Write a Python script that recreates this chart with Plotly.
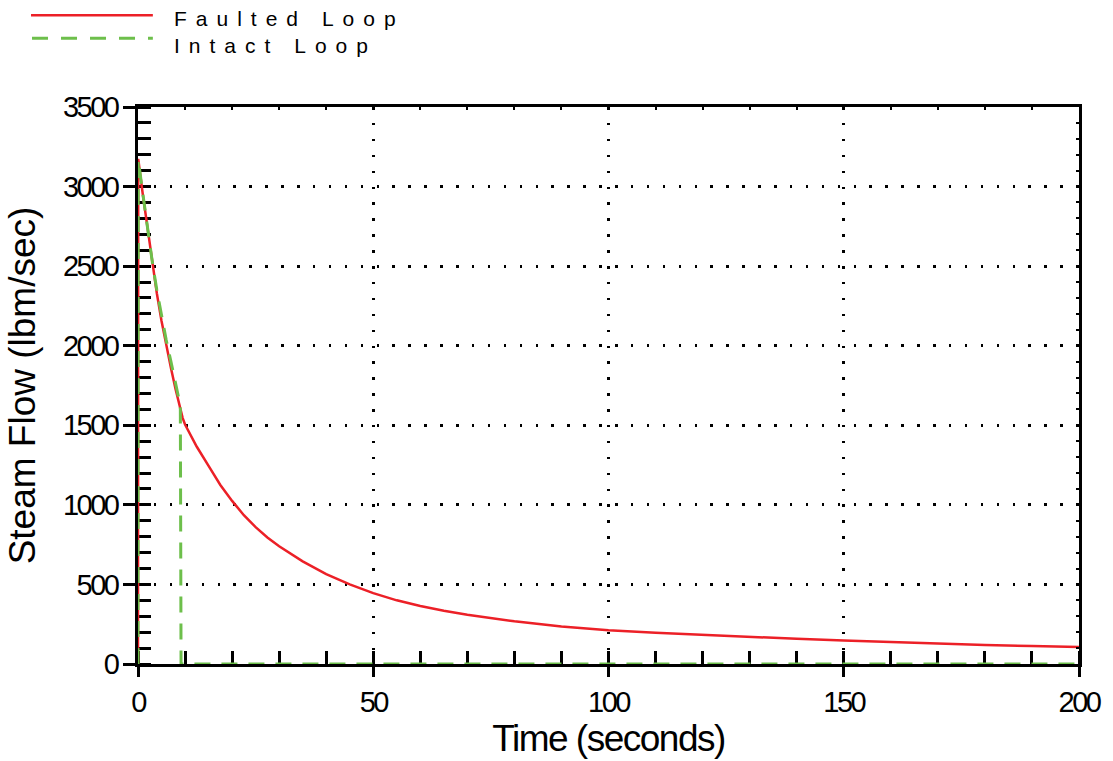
import plotly.graph_objects as go

# Faulted loop steam flow (lbm/sec) vs time (s)
faulted_t = [0, 0.05, 1, 2, 3, 4, 5, 6, 7, 8, 9, 9.5, 10, 12.5, 15, 17.5, 20, 22.5, 25, 27.5, 30, 35, 40, 45, 50, 55, 60, 65, 70, 80, 90, 100, 110, 120, 130, 140, 150, 160, 170, 180, 190, 200]
faulted_v = [0, 3174, 2955, 2735, 2525, 2330, 2155, 2000, 1860, 1725, 1595, 1545, 1505, 1365, 1245, 1125, 1025, 935, 860, 795, 740, 645, 565, 500, 445, 400, 365, 335, 310, 268, 236, 212, 196, 182, 169, 158, 147, 137, 128, 120, 113, 107]

# Intact loop steam flow
intact_t = [0, 0.05, 1, 2, 3, 4, 5, 6, 7, 7.6, 8.3, 8.8, 9.0, 9.15, 200]
intact_v = [0, 3170, 2960, 2740, 2535, 2350, 2180, 2035, 1900, 1820, 1720, 1650, 1600, 0, 0]

series_names = ["Faulted Loop", "Intact Loop"]
x_ticks = [0, 50, 100, 150, 200]
y_ticks = [0, 500, 1000, 1500, 2000, 2500, 3000, 3500]

RED = "#ec2027"
GREEN = "#6dbf4b"
FONT = "Liberation Sans, Arial, sans-serif"

W, H = 1113, 761
L, R, T, B = 138, 25, 107, 95
pw, ph = W - L - R, H - T - B

def px(x):
    return (x - L) / pw

def py(y):
    return (H - B - y) / ph

def tight(s, ls):
    return f'<span style="letter-spacing:{ls}px">{s}</span>'

fig = go.Figure()
fig.add_trace(go.Scatter(x=faulted_t, y=faulted_v, mode="lines", name=series_names[0],
                         line=dict(color=RED, width=2.5),
                         cliponaxis=False, showlegend=False))
fig.add_trace(go.Scatter(x=intact_t, y=intact_v, mode="lines", name=series_names[1],
                         line=dict(color=GREEN, width=3, dash="16px,11px"),
                         cliponaxis=False, showlegend=False))
# mirrored tiny ticks on top/right
fig.add_trace(go.Scatter(x=[None], y=[None], xaxis="x2", yaxis="y2", showlegend=False, hoverinfo="skip"))

axis_common = dict(showline=True, linecolor="black", linewidth=2.5, zeroline=False,
                   showgrid=True, gridcolor="black", gridwidth=2.5, griddash="2.5px,13.4px",
                   tickfont=dict(family=FONT, size=29, color="black"),
                   tickcolor="black", tickwidth=2.5, layer="below traces")

fig.update_layout(
    width=W, height=H,
    margin=dict(l=L, r=R, t=T, b=B),
    paper_bgcolor="white", plot_bgcolor="white",
    xaxis=dict(range=[0, 200], tickvals=x_ticks, ticktext=[tight(str(v), -2.5) for v in x_ticks],
               ticks="outside", ticklen=10,
               minor=dict(dtick=10, ticks="inside", ticklen=13, tickcolor="black", tickwidth=2.5, showgrid=False),
               title=dict(text=tight("Time (seconds)", -1.5), font=dict(family=FONT, size=37, color="black"), standoff=6),
               **axis_common),
    yaxis=dict(range=[0, 3500], tickvals=y_ticks, ticktext=[tight(str(v), -2.5) for v in y_ticks],
               ticks="outside", ticklen=12,
               minor=dict(dtick=100, ticks="inside", ticklen=13, tickcolor="black", tickwidth=2.5, showgrid=False),
               title=dict(text="Steam Flow (lbm/sec)", font=dict(family=FONT, size=37, color="black"), standoff=16),
               **axis_common),
    xaxis2=dict(range=[0, 200], overlaying="x", side="top", anchor="y2", dtick=10, ticks="inside",
                ticklen=3, tickcolor="black", tickwidth=2, showticklabels=False, showgrid=False,
                zeroline=False, showline=True, linecolor="black", linewidth=2.5),
    yaxis2=dict(range=[0, 3500], overlaying="y", side="right", anchor="x2", dtick=100, ticks="inside",
                ticklen=3, tickcolor="black", tickwidth=2, showticklabels=False, showgrid=False,
                zeroline=False, showline=True, linecolor="black", linewidth=2.5),
    showlegend=False,
)

# legend drawn as shapes + labels above the plot
fig.add_shape(type="line", xref="paper", yref="paper", x0=px(30), x1=px(153), y0=py(15), y1=py(15),
              line=dict(color=RED, width=2.5))
fig.add_shape(type="line", xref="paper", yref="paper", x0=px(31), x1=px(153), y0=py(38), y1=py(38),
              line=dict(color=GREEN, width=3, dash="16px,13px"))
for name, yc in zip(series_names, [18, 45]):
    fig.add_annotation(xref="paper", yref="paper", x=px(173), y=py(yc), xanchor="left", yanchor="middle",
                       text=tight(name, 9), showarrow=False, borderpad=0,
                       font=dict(family=FONT, size=21, color="black"))

fig.write_html("out.html")
